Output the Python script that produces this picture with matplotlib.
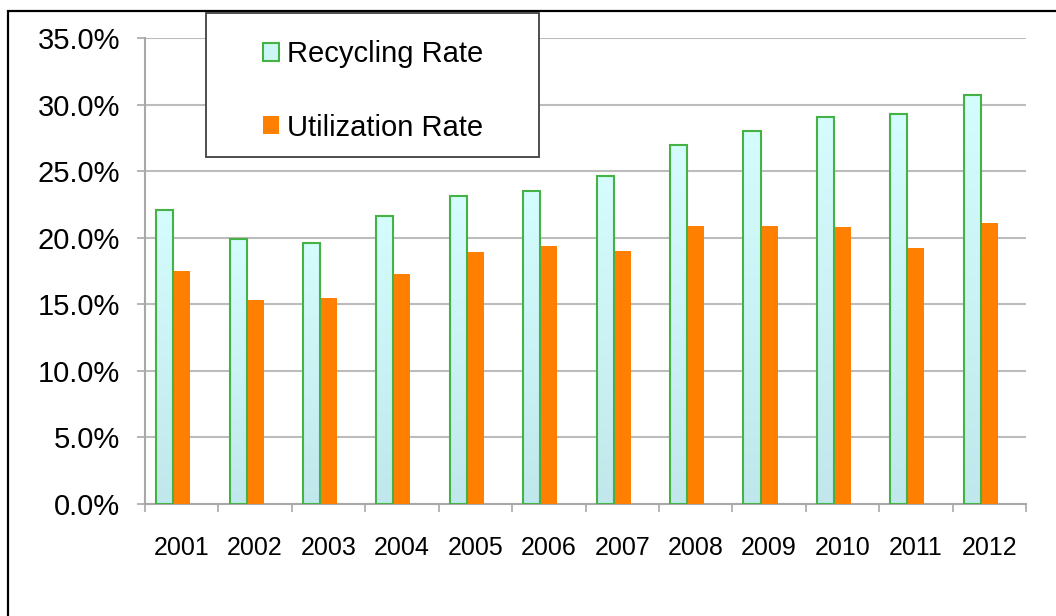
import numpy as np
import matplotlib
matplotlib.use("Agg")
import matplotlib.pyplot as plt
from matplotlib.patches import Rectangle
from matplotlib.ticker import FuncFormatter, FixedLocator
from matplotlib.colors import LinearSegmentedColormap

# data
years = ["2001", "2002", "2003", "2004", "2005", "2006",
         "2007", "2008", "2009", "2010", "2011", "2012"]
recycling = [22.1, 19.9, 19.6, 21.6, 23.1, 23.5, 24.6, 27.0, 28.0, 29.1, 29.3, 30.7]
utilization = [17.5, 15.3, 15.5, 17.3, 18.9, 19.4, 19.0, 20.9, 20.9, 20.8, 19.2, 21.1]

plt.rcParams["font.family"] = ["Liberation Sans", "DejaVu Sans"]

fig = plt.figure(figsize=(10.56, 6.16), dpi=100)
ax = fig.add_axes([145/1056, 1 - 504/616, (1026 - 145)/1056, (504 - 38)/616])

x = np.arange(len(years))
w = 0.232

rec_bars = ax.bar(x - w, recycling, w, color="#cdf6f7", edgecolor="#45b245",
                  linewidth=1.5, label="Recycling Rate", zorder=3)
util_bars = ax.bar(x, utilization, w, color="#ff7f00", edgecolor="none",
                   label="Utilization Rate", zorder=3)

# legend box (frame drawn separately so it can sit above the axes)
fig.patches.append(Rectangle((206/1056, 1 - 157/616), (539 - 206)/1056, 144/616,
                             transform=fig.transFigure, facecolor="white",
                             edgecolor="#404040", linewidth=1.3, zorder=5))
leg = fig.legend(handles=[rec_bars, util_bars], loc="center",
                 bbox_to_anchor=(373/1056, 1 - 91/616), frameon=False,
                 fontsize=21, handlelength=0.55, handleheight=0.55,
                 handletextpad=0.28, labelspacing=1.55)
leg.set_zorder(6)

# light cyan gradient inside the recycling bars
grad_cmap = LinearSegmentedColormap.from_list("cy", ["#c0e7eb", "#d6fdfd"])
grad = np.linspace(0, 1, 256).reshape(-1, 1)
for b in rec_bars:
    bx, by = b.get_x(), b.get_y()
    ax.imshow(grad, cmap=grad_cmap, origin="lower", aspect="auto",
              extent=(bx, bx + b.get_width(), by, by + b.get_height()),
              zorder=3.5, clip_path=b, clip_on=True)
    b.set_facecolor("none")
    b.set_zorder(4)

ax.set_xlim(-0.5, len(years) - 0.5)
ax.set_ylim(0, 35)
ax.set_yticks(np.arange(0, 36, 5))
ax.yaxis.set_major_formatter(FuncFormatter(lambda v, p: f"{v:.1f}%"))
ax.grid(axis="y", color="#bcbcbc", linewidth=1.5, zorder=0)
ax.set_axisbelow(True)

# tick marks on category boundaries, labels at category centres
ax.xaxis.set_major_locator(FixedLocator(np.arange(-0.5, len(years), 1.0)))
ax.xaxis.set_major_formatter(FuncFormatter(lambda v, p: ""))
ax.xaxis.set_minor_locator(FixedLocator(x))
ax.set_xticklabels(years, minor=True)
ax.tick_params(axis="x", which="major", length=6, width=1.2, color="#a8a8a8")
ax.tick_params(axis="x", which="minor", length=0, pad=23, labelsize=18)
ax.tick_params(axis="y", length=6, width=1.2, color="#a8a8a8", pad=12, labelsize=21)

for s in ["top", "right"]:
    ax.spines[s].set_visible(False)
for s in ["left", "bottom"]:
    ax.spines[s].set_color("#a8a8a8")
    ax.spines[s].set_linewidth(1.5)

# outer chart border (runs off the right and bottom edges)
fig.patches.append(Rectangle((8/1056, -0.1), 1.2, 1.1 - 11/616, transform=fig.transFigure,
                             fill=False, edgecolor="black", linewidth=1.6, zorder=0))

plt.savefig("out.png", dpi=100)
